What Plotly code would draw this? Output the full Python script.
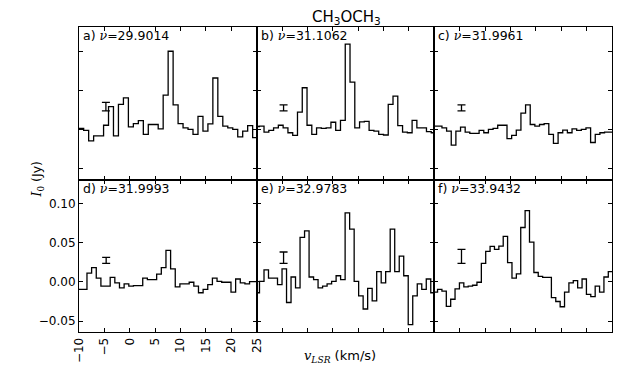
import plotly.graph_objects as go

# ---------------- data ----------------
VEL_A = [-9.57, -8.59, -7.61, -6.63, -5.65, -4.67, -3.70, -2.72, -1.74, -0.76, 0.22, 1.20,
         2.18, 3.16, 4.14, 5.11, 6.09, 7.07, 8.05, 9.03, 10.01, 10.99, 11.97, 12.95,
         13.93, 14.91, 15.88, 16.86, 17.84, 18.82, 19.80, 20.78, 21.76, 22.74, 23.72, 24.70]
INT_A = [0.0013, -0.0013, -0.0146, -0.0083, -0.0083, 0.0054, 0.0292, -0.0083, 0.0321, 0.0404,
         0.0033, 0.0075, 0.0113, -0.0063, 0.0063, 0.0063, 0.0008, 0.0438, 0.1000, 0.0313,
         0.0075, 0.0021, 0.0000, -0.0063, 0.0167, -0.0021, 0.0071, 0.0658, 0.0167, 0.0042,
         0.0021, 0.0000, -0.0096, -0.0021, 0.0050, -0.0104]

VEL_B = [-9.96, -9.02, -8.08, -7.14, -6.20, -5.26, -4.31, -3.37, -2.43, -1.49, -0.55, 0.39,
         1.33, 2.27, 3.21, 4.16, 5.10, 6.04, 6.98, 7.92, 8.86, 9.80, 10.74, 11.68,
         12.62, 13.57, 14.51, 15.45, 16.39, 17.33, 18.27, 19.21, 20.15, 21.09, 22.03, 22.98,
         23.92, 24.86]
INT_B = [0.0038, 0.0042, -0.0033, -0.0013, 0.0021, 0.0054, 0.0021, -0.0042, -0.0075, 0.0221,
         0.0533, 0.0054, -0.0063, 0.0021, 0.0013, 0.0021, 0.0092, -0.0013, 0.0117, 0.1090,
         0.0604, 0.0021, 0.0096, 0.0104, -0.0013, -0.0021, -0.0063, -0.0071, 0.0321, 0.0425,
         0.0050, -0.0033, -0.0042, 0.0117, 0.0021, 0.0021, -0.0029, -0.0042]

VEL_C = [-9.87, -8.96, -8.04, -7.13, -6.21, -5.30, -4.38, -3.47, -2.55, -1.64, -0.72, 0.20,
         1.11, 2.03, 2.94, 3.86, 4.77, 5.69, 6.60, 7.52, 8.43, 9.35, 10.26, 11.18,
         12.09, 13.01, 13.92, 14.84, 15.75, 16.67, 17.58, 18.50, 19.41, 20.33, 21.24, 22.16,
         23.07, 23.99, 24.90]
INT_C = [0.0042, 0.0042, 0.0021, -0.0021, -0.0200, -0.0021, 0.0029, -0.0033, -0.0050, -0.0050,
         -0.0013, -0.0042, 0.0000, 0.0013, 0.0054, 0.0054, -0.0117, -0.0075, -0.0008, 0.0208,
         0.0313, 0.0063, 0.0042, 0.0063, 0.0075, -0.0063, -0.0179, -0.0042, -0.0008, -0.0042,
         0.0008, -0.0013, 0.0000, 0.0021, -0.0167, -0.0063, -0.0042, -0.0033, -0.0033]

VEL_D = [-9.80, -8.89, -7.97, -7.06, -6.14, -5.23, -4.31, -3.40, -2.48, -1.57, -0.65, 0.27,
         1.18, 2.10, 3.01, 3.93, 4.84, 5.76, 6.67, 7.59, 8.50, 9.42, 10.33, 11.25,
         12.16, 13.08, 13.99, 14.91, 15.82, 16.74, 17.65, 18.57, 19.48, 20.40, 21.31, 22.23,
         23.14, 24.06, 24.97]
INT_D = [-0.0096, -0.0096, 0.0113, 0.0183, 0.0050, -0.0054, -0.0054, 0.0058, -0.0013, -0.0075,
         -0.0025, -0.0054, -0.0046, -0.0046, 0.0050, 0.0029, 0.0029, 0.0100, 0.0183, 0.0404,
         0.0167, -0.0063, -0.0025, -0.0025, -0.0004, -0.0054, -0.0138, -0.0096, -0.0033, 0.0050,
         0.0008, -0.0004, -0.0004, -0.0129, 0.0038, -0.0013, -0.0025, 0.0004, 0.0004]

VEL_E = [-9.89, -9.00, -8.11, -7.23, -6.34, -5.45, -4.56, -3.67, -2.79, -1.90, -1.01, -0.12,
         0.77, 1.65, 2.54, 3.43, 4.32, 5.21, 6.09, 6.98, 7.87, 8.76, 9.65, 10.53,
         11.42, 12.31, 13.20, 14.09, 14.97, 15.86, 16.75, 17.64, 18.53, 19.41, 20.30, 21.19,
         22.08, 22.97, 23.85, 24.74]
INT_E = [-0.0138, 0.0008, 0.0154, 0.0050, 0.0050, -0.0033, 0.0167, -0.0263, 0.0063, -0.0075,
         0.0571, 0.0654, 0.0063, 0.0029, -0.0075, -0.0054, -0.0025, 0.0008, 0.0079, 0.0029,
         0.0883, 0.0675, 0.0008, -0.0179, -0.0346, -0.0083, -0.0242, 0.0133, -0.0013, 0.0133,
         0.0675, 0.0133, 0.0329, 0.0079, -0.0546, -0.0179, -0.0025, -0.0096, 0.0038, -0.0138]

VEL_F = [-9.80, -8.94, -8.07, -7.21, -6.35, -5.49, -4.62, -3.76, -2.90, -2.04, -1.17, -0.31,
         0.55, 1.41, 2.28, 3.14, 4.00, 4.86, 5.73, 6.59, 7.45, 8.31, 9.18, 10.04,
         10.90, 11.77, 12.63, 13.49, 14.35, 15.22, 16.08, 16.94, 17.80, 18.67, 19.53, 20.39,
         21.25, 22.12, 22.98, 23.84, 24.70]
INT_F = [-0.0129, -0.0096, -0.0117, -0.0313, -0.0221, -0.0088, -0.0013, -0.0063, -0.0054, -0.0042,
         -0.0004, 0.0238, 0.0392, 0.0454, 0.0417, 0.0458, 0.0583, 0.0246, 0.0050, 0.0104,
         0.0696, 0.0913, 0.0508, 0.0121, 0.0071, 0.0058, 0.0058, -0.0200, -0.0250, -0.0317,
         -0.0129, -0.0013, 0.0017, -0.0075, 0.0038, -0.0158, -0.0188, -0.0054, -0.0129, 0.0063,
         0.0133]

PANEL_TAGS = ["a)", "b)", "c)", "d)", "e)", "f)"]
FREQS = ["29.9014", "31.1062", "31.9961", "31.9993", "32.9783", "33.9432"]

ERR_V = [-4.7, -4.7, -4.65, -4.65, -4.7, -4.65]
ERR_MID = [0.0292, 0.0275, 0.0275, 0.0275, 0.0310, 0.0327]
ERR_HALF = [0.0054, 0.0038, 0.0038, 0.0038, 0.0073, 0.0090]

X_TICKS = [-10, -5, 0, 5, 10, 15, 20, 25]
X_TICK_TEXT = ["\u221210", "\u22125", "0", "5", "10", "15", "20", "25"]
Y_TICKS = [-0.05, 0.0, 0.05, 0.10]
Y_TICK_TEXT = ["\u22120.05", "0.00", "0.05", "0.10"]

VELS = [VEL_A, VEL_B, VEL_C, VEL_D, VEL_E, VEL_F]
INTS = [INT_A, INT_B, INT_C, INT_D, INT_E, INT_F]

# ---------------- figure ----------------
FONT = "DejaVu Sans"
SERIF = "DejaVu Serif"
fig = go.Figure()

for i in range(6):
    row, col = divmod(i, 3)
    xs = VELS[i]
    ys = INTS[i]
    # extend the first/last channel by half a channel so the steps reach the panel edges
    x_ext = [xs[0] - (xs[1] - xs[0]) / 2] + list(xs) + [xs[-1] + (xs[-1] - xs[-2]) / 2]
    y_ext = [ys[0]] + list(ys) + [ys[-1]]
    xref = "x" if i == 0 else f"x{i+1}"
    yref = "y" if i == 0 else f"y{i+1}"
    fig.add_trace(go.Scatter(
        x=x_ext, y=y_ext, mode="lines", line=dict(color="black", width=1.3, shape="hvh"),
        xaxis=xref, yaxis=yref, showlegend=False, hoverinfo="skip"))
    fig.add_trace(go.Scatter(
        x=[ERR_V[i]], y=[ERR_MID[i]], mode="markers",
        marker=dict(size=1, color="rgba(0,0,0,0)"),
        error_y=dict(type="data", array=[ERR_HALF[i]], width=4, thickness=1.3, color="black"),
        xaxis=xref, yaxis=yref, showlegend=False, hoverinfo="skip"))

    xdom = [col / 3, (col + 1) / 3]
    ydom = [0.5, 1.0] if row == 0 else [0.0, 0.5]
    xa = dict(domain=xdom, anchor=yref, range=[-10, 25], tickmode="array",
              tickvals=X_TICKS, ticktext=X_TICK_TEXT, showticklabels=(i == 3),
              ticks="inside", ticklen=4, tickwidth=1, tickcolor="black",
              mirror="ticks", showline=True, linecolor="black", linewidth=1,
              showgrid=False, zeroline=False, tickangle=-90,
              tickfont=dict(family=FONT, size=12, color="black"))
    ya = dict(domain=ydom, anchor=xref, range=[-0.064, 0.131], tickmode="array",
              tickvals=Y_TICKS, ticktext=Y_TICK_TEXT, showticklabels=(i == 3),
              ticks="inside", ticklen=4, tickwidth=1, tickcolor="black",
              mirror="ticks", showline=True, linecolor="black", linewidth=1,
              showgrid=False, zeroline=False,
              tickfont=dict(family=FONT, size=12, color="black"))
    fig.update_layout(**{("xaxis" if i == 0 else f"xaxis{i+1}"): xa,
                         ("yaxis" if i == 0 else f"yaxis{i+1}"): ya})

    fig.add_annotation(
        xref=f"{xref} domain", yref=f"{yref} domain", x=0, y=1,
        xanchor="left", yanchor="top", xshift=2, yshift=1, showarrow=False,
        text=f"{PANEL_TAGS[i]} <span style=\"font-family:{SERIF}\"><i>\u03bd</i></span>={FREQS[i]}",
        font=dict(family=FONT, size=12.5, color="black"))

# title
fig.add_annotation(xref="paper", yref="paper", x=0.501, y=1.032, xanchor="center",
                   yanchor="middle", showarrow=False,
                   text="CH<sub>3</sub>OCH<sub>3</sub>",
                   font=dict(family=FONT, size=15, color="black"))
# x label
fig.add_annotation(xref="paper", yref="paper", x=0.49, y=-0.0804, xanchor="center",
                   yanchor="middle", showarrow=False,
                   text=f"<span style=\"font-family:{SERIF}\"><i>v</i><sub><i>LSR</i></sub></span> (km/s)",
                   font=dict(family=FONT, size=13, color="black"))
# y label
fig.add_annotation(xref="paper", yref="paper", x=-0.078, y=0.5016, xanchor="center",
                   yanchor="middle", showarrow=False, textangle=-90,
                   text=f"<span style=\"font-family:{SERIF}\"><i>I</i><sub>0</sub></span> (Jy)",
                   font=dict(family=FONT, size=12.5, color="black"))

# the page body adds an 8 px margin, so the figure is 8 px smaller and margins shifted
fig.update_layout(width=630, height=367, margin=dict(l=71, r=26, t=19, b=37),
                  paper_bgcolor="white", plot_bgcolor="white", showlegend=False)

fig.write_html("out.html")
